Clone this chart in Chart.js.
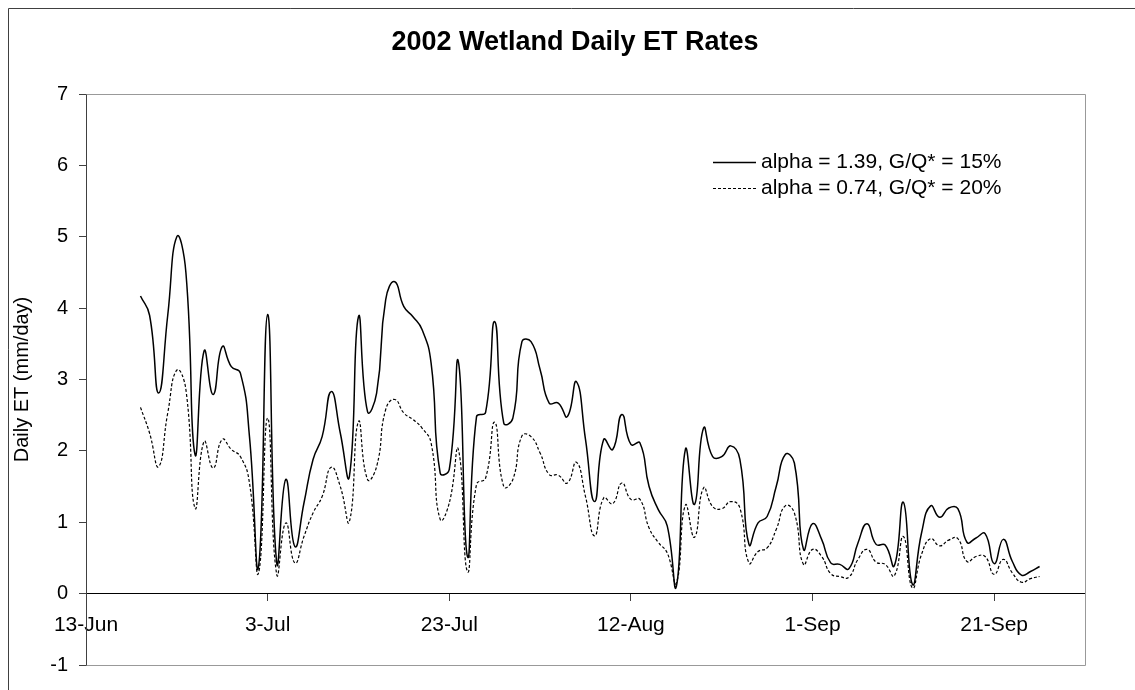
<!DOCTYPE html>
<html>
<head>
<meta charset="utf-8">
<script src="https://cdn.jsdelivr.net/npm/chart.js"></script>
<style>
  body { margin: 0; background: #fff; }
  #wrap { width: 1135px; height: 690px; position: relative; }
</style>
</head>
<body>
<div id="wrap"><canvas id="etChart"></canvas></div>
<script>
// days counted from 13-Jun-2002 (first data point is 19-Jun, day 6)
const firstDay = 6;
const tickLabels = ["13-Jun", "3-Jul", "23-Jul", "12-Aug", "1-Sep", "21-Sep"];

// alpha = 1.39, G/Q* = 15%
const etHigh = [
  4.17, 3.90, 2.81, 3.90, 5.00, 4.50, 1.95, 3.40, 2.79, 3.46,
  3.18, 3.09, 2.20, 0.38, 3.91, 0.43, 1.60, 0.66, 1.27, 1.88,
  2.20, 2.83, 2.25, 1.64, 3.88, 2.55, 2.81, 4.12, 4.37, 4.02,
  3.88, 3.70, 3.23, 1.69, 1.74, 3.25, 0.52, 2.48, 2.54, 3.81,
  2.39, 2.46, 3.53, 3.53, 3.14, 2.67, 2.67, 2.48, 2.97, 2.16,
  1.29, 2.16, 2.02, 2.51, 2.09, 2.11, 1.50, 1.18, 0.95, 0.10,
  2.02, 1.25, 2.32, 1.92, 1.92, 2.07, 1.88, 0.69, 0.99, 1.08,
  1.50, 1.95, 1.83, 0.62, 0.98, 0.76, 0.43, 0.41, 0.35, 0.71,
  0.98, 0.69, 0.68, 0.39, 1.28, 0.13, 0.85, 1.23, 1.07, 1.20,
  1.19, 0.72, 0.78, 0.84, 0.42, 0.76, 0.45, 0.26, 0.31, 0.38,
];

// alpha = 0.74, G/Q* = 20%
const etLow = [
  2.61, 2.25, 1.78, 2.53, 3.13, 2.86, 1.20, 2.13, 1.76, 2.16,
  2.02, 1.92, 1.55, 0.29, 2.46, 0.27, 0.99, 0.43, 0.80, 1.13,
  1.36, 1.77, 1.50, 1.01, 2.41, 1.60, 1.78, 2.58, 2.72, 2.53,
  2.44, 2.32, 2.11, 1.04, 1.27, 2.02, 0.31, 1.53, 1.62, 2.40,
  1.50, 1.60, 2.21, 2.20, 1.97, 1.67, 1.66, 1.55, 1.84, 1.36,
  0.81, 1.34, 1.26, 1.55, 1.32, 1.32, 0.92, 0.72, 0.57, 0.15,
  1.24, 0.79, 1.48, 1.22, 1.19, 1.29, 1.20, 0.43, 0.59, 0.64,
  0.90, 1.23, 1.13, 0.41, 0.62, 0.52, 0.28, 0.24, 0.23, 0.48,
  0.62, 0.44, 0.41, 0.25, 0.80, 0.08, 0.55, 0.77, 0.67, 0.75,
  0.77, 0.45, 0.52, 0.52, 0.27, 0.48, 0.29, 0.16, 0.21, 0.24,
];

const seriesLabels = ["alpha = 1.39, G/Q* = 15%", "alpha = 0.74, G/Q* = 20%"];
const chartTitle = "2002 Wetland Daily ET Rates";

const FONT = "'Liberation Sans', Arial, sans-serif";
const axisColor = "#404040";
const frameColor = "#999999";

function toPoints(values) {
  return values.map((v, i) => ({ x: firstDay + i, y: v }));
}

// white background, outer chart border (left / top only visible) and title
const backgroundPlugin = {
  id: "background",
  beforeDraw(chart) {
    const ctx = chart.ctx;
    ctx.save();
    ctx.fillStyle = "#fff";
    ctx.fillRect(0, 0, chart.width, chart.height);
    ctx.strokeStyle = axisColor;
    ctx.lineWidth = 1;
    ctx.beginPath();
    ctx.moveTo(8.5, chart.height);
    ctx.lineTo(8.5, 8.5);
    ctx.lineTo(chart.width, 8.5);
    ctx.stroke();
    // title is centred on the whole (outer) chart box, not the plot
    ctx.fillStyle = "#000";
    ctx.font = "bold 27px " + FONT;
    ctx.textAlign = "center";
    ctx.textBaseline = "middle";
    ctx.fillText(chartTitle, 575, 43);
    ctx.restore();
  },
};

// plot area frame (top, right, bottom)
const framePlugin = {
  id: "frame",
  beforeDatasetsDraw(chart) {
    const { ctx, chartArea: a } = chart;
    ctx.save();
    ctx.strokeStyle = frameColor;
    ctx.lineWidth = 1;
    ctx.beginPath();
    ctx.moveTo(Math.round(a.left) + 0.5, Math.round(a.top) + 0.5);
    ctx.lineTo(Math.round(a.right) + 0.5, Math.round(a.top) + 0.5);
    ctx.lineTo(Math.round(a.right) + 0.5, Math.round(a.bottom) + 0.5);
    ctx.lineTo(Math.round(a.left) + 0.5, Math.round(a.bottom) + 0.5);
    ctx.stroke();
    ctx.restore();
  },
};

// legend inside the plot area, top right
const insideLegend = {
  id: "insideLegend",
  afterDraw(chart) {
    const ctx = chart.ctx;
    const x0 = 713, x1 = 756, tx = 761;
    const rows = [162, 188];
    ctx.save();
    chart.data.datasets.forEach((ds, i) => {
      const y = rows[i] + 0.5;
      ctx.strokeStyle = ds.borderColor;
      ctx.lineWidth = ds.borderWidth;
      ctx.setLineDash(ds.borderDash || []);
      ctx.beginPath();
      ctx.moveTo(x0, y);
      ctx.lineTo(x1, y);
      ctx.stroke();
      ctx.setLineDash([]);
      ctx.fillStyle = "#000";
      ctx.font = "21px " + FONT;
      ctx.textBaseline = "middle";
      ctx.textAlign = "left";
      ctx.fillText(ds.label, tx, rows[i]);
    });
    ctx.restore();
  },
};

new Chart(document.getElementById("etChart"), {
  type: "line",
  data: {
    datasets: [
      {
        label: seriesLabels[0],
        data: toPoints(etHigh),
        borderColor: "#000",
        borderWidth: 1.5,
        pointRadius: 0,
        tension: 0.5,
        fill: false,
      },
      {
        label: seriesLabels[1],
        data: toPoints(etLow),
        borderColor: "#000",
        borderWidth: 1.2,
        borderDash: [3, 2],
        pointRadius: 0,
        tension: 0.5,
        fill: false,
      },
    ],
  },
  options: {
    responsive: true,
    maintainAspectRatio: false,
    animation: false,
    layout: { padding: { left: 8, right: 50, top: 94, bottom: 25 } },
    plugins: {
      legend: { display: false },
      tooltip: { enabled: false },
      title: { display: false },
    },
    scales: {
      x: {
        type: "linear",
        position: { y: 0 },
        min: 0,
        max: 110,
        afterBuildTicks(scale) {
          scale.ticks = scale.ticks.filter((t) => t.value % 20 === 0);
        },
        ticks: {
          stepSize: 20,
          autoSkip: false,
          maxRotation: 0,
          padding: 12,
          color: "#000",
          font: { family: FONT, size: 21 },
          callback: (v) => tickLabels[v / 20] ?? "",
        },
        grid: {
          drawOnChartArea: false,
          drawTicks: true,
          tickLength: 7,
          color: axisColor,
        },
        border: { display: true, color: "#000", width: 1 },
      },
      y: {
        min: -1,
        max: 7,
        afterFit(scale) {
          scale.width = 78;
        },
        ticks: {
          stepSize: 1,
          padding: 11,
          color: "#000",
          font: { family: FONT, size: 20 },
        },
        grid: {
          drawOnChartArea: false,
          drawTicks: true,
          tickLength: 7,
          color: axisColor,
        },
        border: { display: true, color: axisColor, width: 1 },
        title: {
          display: true,
          text: "Daily ET (mm/day)",
          color: "#000",
          font: { family: FONT, size: 20 },
          padding: { top: 2, bottom: 0 },
        },
      },
    },
  },
  plugins: [backgroundPlugin, framePlugin, insideLegend],
});
</script>
</body>
</html>
